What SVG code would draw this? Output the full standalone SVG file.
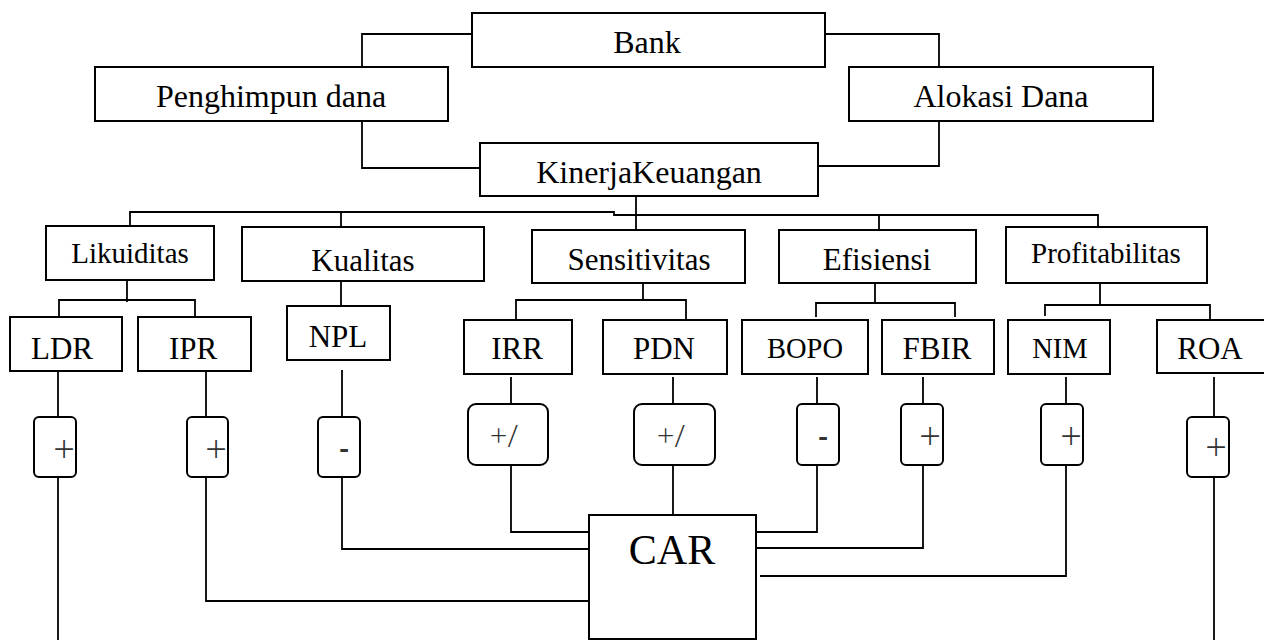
<svg xmlns="http://www.w3.org/2000/svg" width="1264" height="640" viewBox="0 0 1264 640">
<style>
.box{fill:#fff;stroke:#000;stroke-width:2}
.sg{fill:#fff;stroke:#000;stroke-width:2}
.t{font-family:"Liberation Serif","Times New Roman",serif;font-size:31px;fill:#000;text-anchor:middle}
.t1{font-size:32px}
.s{font-family:"Open Sans","Liberation Sans",sans-serif;font-weight:300;font-size:38px;fill:#333;text-anchor:middle}
.s2{font-size:31px}
.m{font-weight:600}
.c path{fill:none;stroke:#000;stroke-width:1.8}
</style>
<rect width="1264" height="640" fill="#fff"/>
<g class="c" id="connectors">
<path d="M472,34 H362 V67"/>
<path d="M825,34 H939 V67"/>
<path d="M362,121 V168 H480"/>
<path d="M939,121 V166 H818"/>
<path d="M130,226 V212 H614 V215 H1098 V227"/>
<path d="M636,196 V230"/>
<path d="M341,212 V227"/>
<path d="M879,215 V230"/>
<path d="M127,280 V302"/>
<path d="M59,317 V300 H195 V317"/>
<path d="M341,281 V306"/>
<path d="M643,283 V300"/>
<path d="M516,320 V300 H686 V320"/>
<path d="M875,283 V303"/>
<path d="M816,317 V303 H955 V317"/>
<path d="M1100,283 V305"/>
<path d="M1045,316 V305 H1210 V321"/>
<path d="M58,371 V417"/>
<path d="M206,371 V417"/>
<path d="M342,370 V417"/>
<path d="M511,377 V404"/>
<path d="M673,377 V404"/>
<path d="M817,377 V404"/>
<path d="M923,377 V404"/>
<path d="M1066,377 V404"/>
<path d="M1214,377 V417"/>
<path d="M58,477 V640"/>
<path d="M206,477 V601 H589"/>
<path d="M342,477 V549 H589"/>
<path d="M511,465 V532 H589"/>
<path d="M673,465 V515"/>
<path d="M817,465 V532 H756"/>
<path d="M923,465 V548 H756"/>
<path d="M1066,465 V576 H760"/>
<path d="M1214,477 V640"/>
</g>
<g id="bank"><rect class="box" x="472" y="13" width="353" height="54"/><text class="t t1" x="647" y="53">Bank</text></g>
<g id="penghimpun"><rect class="box" x="95" y="67" width="353" height="54"/><text class="t t1" x="271" y="107">Penghimpun dana</text></g>
<g id="alokasi"><rect class="box" x="849" y="67" width="304" height="54"/><text class="t t1" x="1001" y="107">Alokasi Dana</text></g>
<g id="kinerja"><rect class="box" x="480" y="143" width="338" height="53"/><text class="t t1" x="649" y="183">KinerjaKeuangan</text></g>
<g id="likuiditas"><rect class="box" x="46" y="226" width="168" height="54"/><text class="t" x="130" y="263" style="font-size:29px">Likuiditas</text></g>
<g id="kualitas"><rect class="box" x="242" y="227" width="242" height="54"/><text class="t" x="363" y="271">Kualitas</text></g>
<g id="sensitivitas"><rect class="box" x="532" y="230" width="213" height="53"/><text class="t" x="639" y="270">Sensitivitas</text></g>
<g id="efisiensi"><rect class="box" x="779" y="230" width="197" height="53"/><text class="t" x="877" y="270">Efisiensi</text></g>
<g id="profitabilitas"><rect class="box" x="1006" y="227" width="201" height="56"/><text class="t" x="1106" y="263" style="font-size:29px">Profitabilitas</text></g>
<g id="ldr"><rect class="box" x="10" y="317" width="112" height="54"/><text class="t" x="62" y="359">LDR</text></g>
<g id="ipr"><rect class="box" x="138" y="317" width="113" height="54"/><text class="t" x="193" y="359">IPR</text></g>
<g id="npl"><rect class="box" x="287" y="306" width="103" height="54"/><text class="t" x="338" y="347">NPL</text></g>
<g id="irr"><rect class="box" x="464" y="320" width="108" height="54"/><text class="t" x="517" y="359">IRR</text></g>
<g id="pdn"><rect class="box" x="603" y="320" width="124" height="54"/><text class="t" x="664" y="359">PDN</text></g>
<g id="bopo"><rect class="box" x="742" y="320" width="126" height="54"/><text class="t" x="805" y="358" style="font-size:28.5px">BOPO</text></g>
<g id="fbir"><rect class="box" x="882" y="320" width="112" height="54"/><text class="t" x="937" y="359">FBIR</text></g>
<g id="nim"><rect class="box" x="1008" y="320" width="102" height="54"/><text class="t" x="1060" y="358" style="font-size:28.5px">NIM</text></g>
<g id="roa"><rect class="box" x="1157" y="320" width="120" height="53"/><text class="t" x="1210" y="359">ROA</text></g>
<g id="sign-ldr"><rect class="sg" x="34" y="417" width="42" height="60" rx="5"/><text class="s" x="64" y="463">+</text></g>
<g id="sign-ipr"><rect class="sg" x="187" y="417" width="41" height="60" rx="5"/><text class="s" x="216" y="463">+</text></g>
<g id="sign-npl"><rect class="sg" x="318" y="417" width="42" height="60" rx="5"/><text class="s m" x="344" y="459" style="font-size:30px">-</text></g>
<g id="sign-irr"><rect class="sg" x="468" y="404" width="80" height="61" rx="8"/><text class="s s2" x="504" y="447">+/</text></g>
<g id="sign-pdn"><rect class="sg" x="634" y="404" width="81" height="61" rx="8"/><text class="s s2" x="671" y="447">+/</text></g>
<g id="sign-bopo"><rect class="sg" x="797" y="404" width="42" height="61" rx="5"/><text class="s m" x="823" y="447" style="font-size:30px">-</text></g>
<g id="sign-fbir"><rect class="sg" x="901" y="404" width="42" height="61" rx="5"/><text class="s" x="930" y="450">+</text></g>
<g id="sign-nim"><rect class="sg" x="1041" y="404" width="42" height="61" rx="5"/><text class="s" x="1071" y="450">+</text></g>
<g id="sign-roa"><rect class="sg" x="1187" y="417" width="42" height="60" rx="5"/><text class="s" x="1216" y="461">+</text></g>
<g id="car"><rect class="box" x="589" y="515" width="167" height="124"/><text class="t" x="672" y="564" style="font-size:42px">CAR</text></g>
</svg>
